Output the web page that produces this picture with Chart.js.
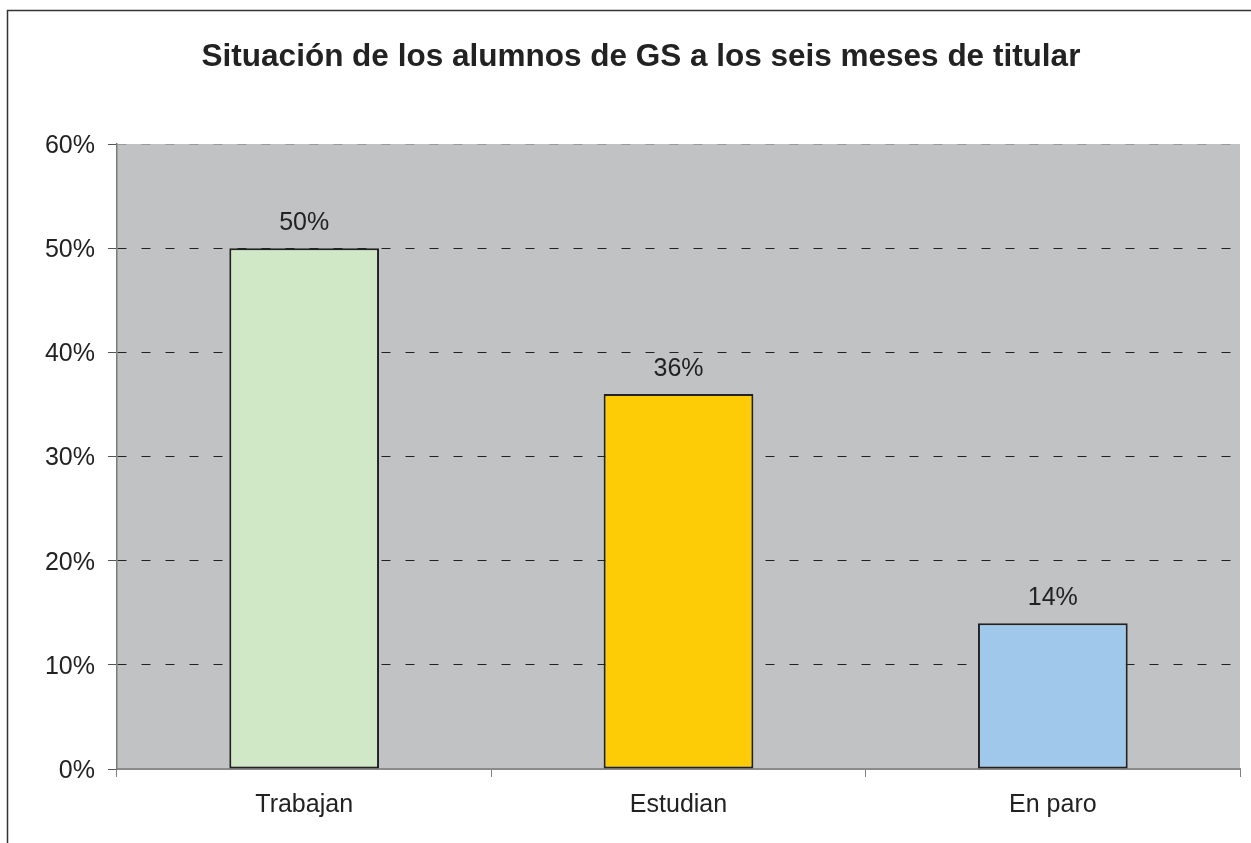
<!DOCTYPE html>
<html>
<head>
<meta charset="utf-8">
<script src="https://cdn.jsdelivr.net/npm/chart.js@4/dist/chart.umd.min.js"></script>
<style>
html,body{margin:0;padding:0;background:#fff;}
#wrap{width:1251px;height:843px;position:relative;}
</style>
</head>
<body>
<div id="wrap"><canvas id="c" width="1251" height="843"></canvas></div>
<script>
const titleText = 'Situación de los alumnos de GS a los seis meses de titular';
const categories = ['Trabajan', 'Estudian', 'En paro'];
const values = [50, 36, 14];
const barColors = ['#d0e8c6', '#fdcc07', '#9fc8ea'];
const yTicks = [0, 10, 20, 30, 40, 50, 60];

const FONT = '"Liberation Sans", Arial, sans-serif';

const frame = {
  id: 'frame',
  beforeDraw(chart) {
    const {ctx, chartArea: a} = chart;
    ctx.save();
    ctx.fillStyle = '#ffffff';
    ctx.fillRect(0, 0, chart.width, chart.height);
    ctx.strokeStyle = '#333333';
    ctx.lineWidth = 1.5;
    ctx.strokeRect(7.5, 10.5, 1400, 1000);
    ctx.fillStyle = '#c1c2c4';
    ctx.fillRect(a.left, a.top, a.right - a.left, a.bottom - a.top);
    // title
    ctx.font = 'bold 31.5px ' + FONT;
    ctx.fillStyle = '#222222';
    ctx.textAlign = 'center';
    ctx.textBaseline = 'alphabetic';
    ctx.fillText(titleText, 641, 66);
    ctx.restore();
  }
};

const labels = {
  id: 'valueLabels',
  afterDatasetsDraw(chart) {
    const {ctx} = chart;
    const meta = chart.getDatasetMeta(0);
    ctx.save();
    ctx.font = '25px ' + FONT;
    ctx.fillStyle = '#222222';
    ctx.textAlign = 'center';
    ctx.textBaseline = 'middle';
    meta.data.forEach((bar, i) => {
      ctx.fillText(values[i] + '%', bar.x, bar.y - 25);
    });
    ctx.restore();
  }
};

new Chart(document.getElementById('c'), {
  type: 'bar',
  data: {
    labels: categories,
    datasets: [{
      data: values,
      backgroundColor: barColors,
      borderColor: '#222222',
      borderWidth: 2,
      borderSkipped: false,
      barPercentage: 0.4,
      categoryPercentage: 1.0
    }]
  },
  options: {
    responsive: false,
    animation: false,
    devicePixelRatio: 1,
    layout: {padding: {left: 0, right: 11, top: 144, bottom: 0}},
    plugins: {
      legend: {display: false},
      tooltip: {enabled: false},
      title: {display: false}
    },
    scales: {
      x: {
        grid: {
          display: true,
          drawOnChartArea: false,
          drawTicks: true,
          tickLength: 8,
          color: '#808080',
          offset: true
        },
        border: {display: true, color: '#8a8a8a', width: 2},
        ticks: {
          color: '#222222',
          font: {family: FONT, size: 25},
          padding: 13,
          maxRotation: 0
        },
        afterFit(s) { s.height = 74; }
      },
      y: {
        min: 0,
        max: 60,
        afterBuildTicks(s) { s.ticks = yTicks.map(v => ({value: v})); },
        grid: {
          display: true,
          drawTicks: true,
          tickLength: 9,
          color: (c) => c.tick && c.tick.value === 0 ? 'rgba(0,0,0,0)' : (c.tick && c.tick.value === 60 ? '#9a9a9a' : '#222222'),
          tickColor: '#555555',
          tickBorderDash: [],
          lineWidth: 1
        },
        border: {display: true, color: '#7a7a7a', width: 1.5, dash: [9, 15], dashOffset: 0},
        ticks: {
          color: '#222222',
          font: {family: FONT, size: 25},
          padding: 13,
          labelOffset: 2,
          callback: (v) => v + '%'
        },
        afterFit(s) { s.width = 117; }
      }
    }
  },
  plugins: [frame, labels]
});
</script>
</body>
</html>
